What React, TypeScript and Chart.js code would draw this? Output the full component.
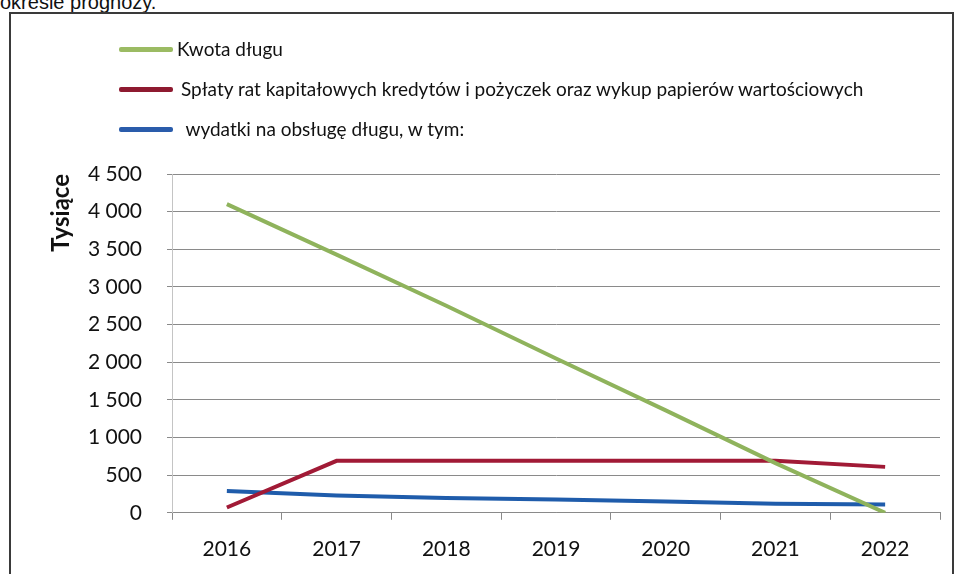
import React, { useEffect, useRef } from "react";
import { Chart, registerables } from "chart.js";

Chart.register(...registerables);

const categories = ["2016", "2017", "2018", "2019", "2020", "2021", "2022"];
const kwotaDlugu = [4100, 3430, 2750, 2050, 1360, 660, 0];
const splatyRat = [70, 690, 690, 690, 690, 690, 610];
const wydatkiObsluga = [290, 230, 195, 175, 150, 120, 110];
const seriesLabels = [
  "Kwota długu",
  "Spłaty rat kapitałowych kredytów i pożyczek oraz wykup papierów wartościowych",
  " wydatki na obsługę długu, w tym:",
];
const seriesColors = ["#8fb35c", "#a11a36", "#1f5cab"];
const yTitle = "Tysiące";
const headerText = "okresie prognozy.";

const fmt = (v: number) => {
  const s = String(Math.round(v));
  return s.replace(/\B(?=(\d{3})+(?!\d))/g, " ");
};

export default function App() {
  const ref = useRef<HTMLCanvasElement | null>(null);

  useEffect(() => {
    document.body.style.margin = "0";
    if (!ref.current) return;
    const font = "Lato, 'Open Sans', sans-serif";
    const chart = new Chart(ref.current, {
      type: "line",
      data: {
        labels: categories,
        datasets: [kwotaDlugu, splatyRat, wydatkiObsluga].map((d, i) => ({
          label: seriesLabels[i],
          data: d,
          borderColor: seriesColors[i],
          backgroundColor: seriesColors[i],
          borderWidth: 4,
          pointRadius: 0,
          tension: 0,
          fill: false,
        })),
      },
      options: {
        animation: false,
        responsive: false,
        maintainAspectRatio: false,
        layout: { padding: { top: 161, right: 16, bottom: 14, left: 0 } },
        plugins: { legend: { display: false }, tooltip: { enabled: false } },
        scales: {
          x: {
            offset: true,
            grid: {
              offset: true,
              drawOnChartArea: false,
              drawTicks: true,
              tickLength: 7,
              color: "#8a8a8a",
            },
            border: { color: "#8a8a8a", width: 1 },
            ticks: {
              padding: 17,
              color: "#111",
              font: { family: font, size: 21 },
              maxRotation: 0,
            },
          },
          y: {
            min: 0,
            max: 4500,
            afterFit: (s: any) => {
              s.width = 161;
            },
            grid: { color: "#8a8a8a", tickLength: 5, drawTicks: true },
            border: { color: "#c4c4c4", width: 1 },
            ticks: {
              stepSize: 500,
              padding: 25,
              color: "#111",
              font: { family: font, size: 21 },
              callback: (v: any) => fmt(Number(v)),
            },
            title: {
              display: true,
              text: yTitle,
              align: "end",
              color: "#111",
              font: { family: font, size: 24, weight: "bold" },
              padding: { top: 36, bottom: 0 },
            },
          },
        },
      },
    });
    return () => chart.destroy();
  }, []);

  const legendFont = "Lato, 'Open Sans', sans-serif";
  const legendLineColors = ["#9bbb63", "#8e1a30", "#2a5cab"];
  const rows = [
    { y: 49, tx: 177 },
    { y: 89, tx: 181 },
    { y: 129, tx: 181 },
  ];

  return (
    <div
      style={{
        position: "relative",
        width: 959,
        height: 574,
        overflow: "hidden",
        background: "#fff",
      }}
    >
      <div
        style={{
          position: "absolute",
          left: 0,
          top: -9,
          fontFamily: "'Liberation Sans', Arial, sans-serif",
          fontSize: 20,
          color: "#111",
          whiteSpace: "nowrap",
        }}
      >
        {headerText}
      </div>
      <div
        style={{
          position: "absolute",
          left: 9,
          top: 12,
          width: 945,
          height: 600,
          border: "2px solid #3a3a3a",
          boxSizing: "border-box",
        }}
      />
      <canvas
        ref={ref}
        width={945}
        height={580}
        style={{ position: "absolute", left: 11, top: 13, width: 945, height: 580 }}
      />
      {rows.map((r, i) => (
        <React.Fragment key={i}>
          <div
            style={{
              position: "absolute",
              left: 119,
              top: r.y - 2,
              width: 54,
              height: 5,
              borderRadius: 2,
              background: legendLineColors[i],
            }}
          />
          <div
            style={{
              position: "absolute",
              left: r.tx,
              top: r.y - 13,
              lineHeight: "26px",
              fontFamily: legendFont,
              fontSize: 19,
              color: "#111",
              whiteSpace: "pre",
            }}
          >
            {seriesLabels[i]}
          </div>
        </React.Fragment>
      ))}
    </div>
  );
}
